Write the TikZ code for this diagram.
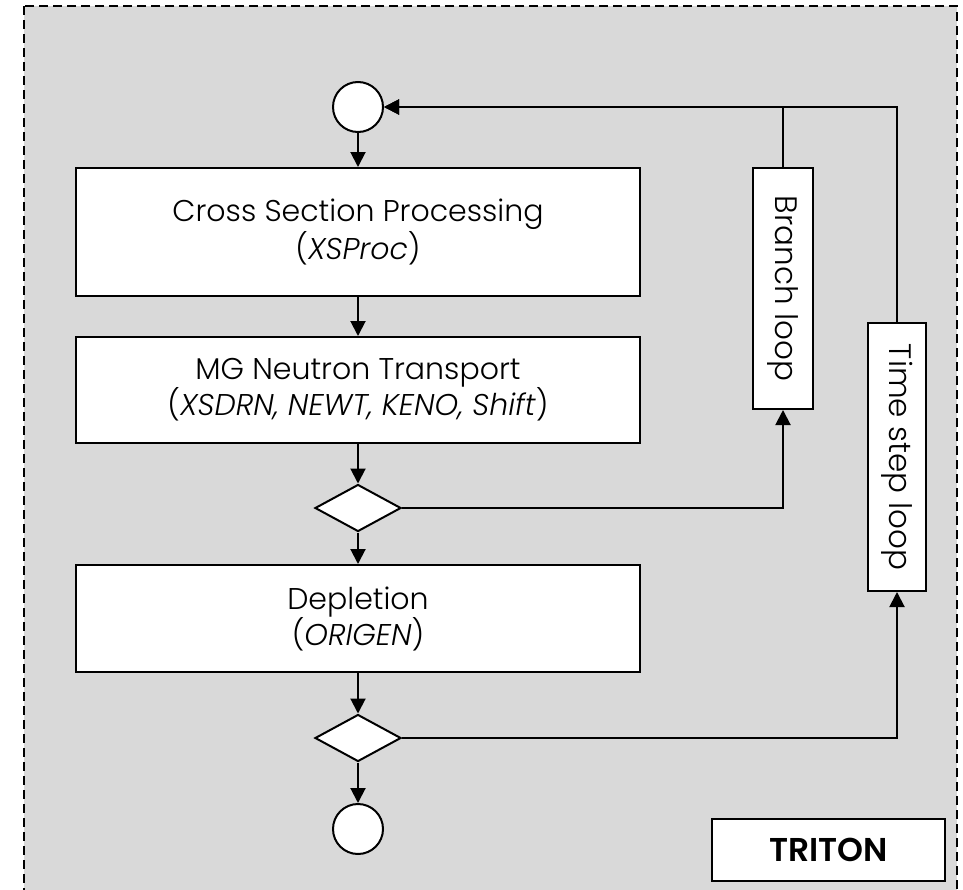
\documentclass[tikz,border=0pt]{standalone}
\usepackage{fontspec}
\setmainfont{Poppins}[UprightFont=* Light, ItalicFont=* Light Italic, BoldFont=* SemiBold]
\usepackage{tikz}
\usetikzlibrary{positioning}
\usetikzlibrary{shapes.geometric}
\usetikzlibrary{arrows.meta}
\definecolor{panelgray}{HTML}{D9D9D9}

\begin{document}
\begin{tikzpicture}[x=1pt,y=-1pt,
						stepbox/.style={rectangle, draw=black, line width=2pt, fill=white, minimum width=564pt, align=center, font=\fontsize{30}{36}\selectfont},
						roundnode/.style={circle, draw=black, line width=2pt, fill=white, minimum size=50pt, inner sep=0pt},
						decision/.style={diamond, draw=black, line width=2pt, fill=white, aspect=1.85, minimum width=86pt, minimum height=47pt, inner sep=0pt},
						loopbox/.style={rectangle, draw=black, line width=2pt, fill=white, rotate=-90, inner sep=0pt, font=\fontsize{31}{36}\selectfont},
						flow/.style={line width=2pt, -{Triangle[length=15pt,width=15pt]}},
						]
						\useasboundingbox (0,0) rectangle (963,889);
						%Panel
						\draw[line width=2pt, dash pattern=on 9pt off 5pt, fill=panelgray] (24,6) rectangle (957,905);

						%Nodes
						\node[roundnode]      (start)     at (358,107)   {};
						\node[stepbox, minimum height=128pt] (xsproc)    at (358,232)   {Cross Section Processing\\(\textit{XSProc})};
						\node[stepbox, minimum height=106pt] (transport) at (358,390)   {MG Neutron Transport\\(\textit{XSDRN, NEWT, KENO, Shift})};
						\node[decision]       (check1)    at (358,508)   {};
						\node[stepbox, minimum height=107pt] (depletion) at (358,618.5) {Depletion\\(\textit{ORIGEN})};
						\node[decision]       (check2)    at (358,738)   {};
						\node[roundnode]      (stop)      at (358,829)   {};
						\node[loopbox, minimum width=241pt, minimum height=60pt] (branch)   at (783,288.5) {Branch loop};
						\node[loopbox, minimum width=268pt, minimum height=58pt] (timeloop) at (897,457)   {Time step loop};
						\node[rectangle, draw=black, line width=2pt, fill=white, minimum width=233pt, minimum height=62pt, font=\bfseries\fontsize{33}{36}\selectfont] (triton) at (828.5,850) {TRITON};

						%Lines
						\draw[flow] (start) -- (xsproc);
						\draw[flow] (xsproc) -- (transport);
						\draw[flow] (transport) -- (check1);
						\draw[flow] (check1) -- (depletion);
						\draw[flow] (depletion) -- (check2);
						\draw[flow] (check2) -- (stop);

						\draw[flow] (check1) -| (branch);
						\draw[flow] (branch) |- (start);
						\draw[flow] (check2) -| (timeloop);
						\draw[flow] (timeloop) |- (start);
					\end{tikzpicture}
\end{document}
